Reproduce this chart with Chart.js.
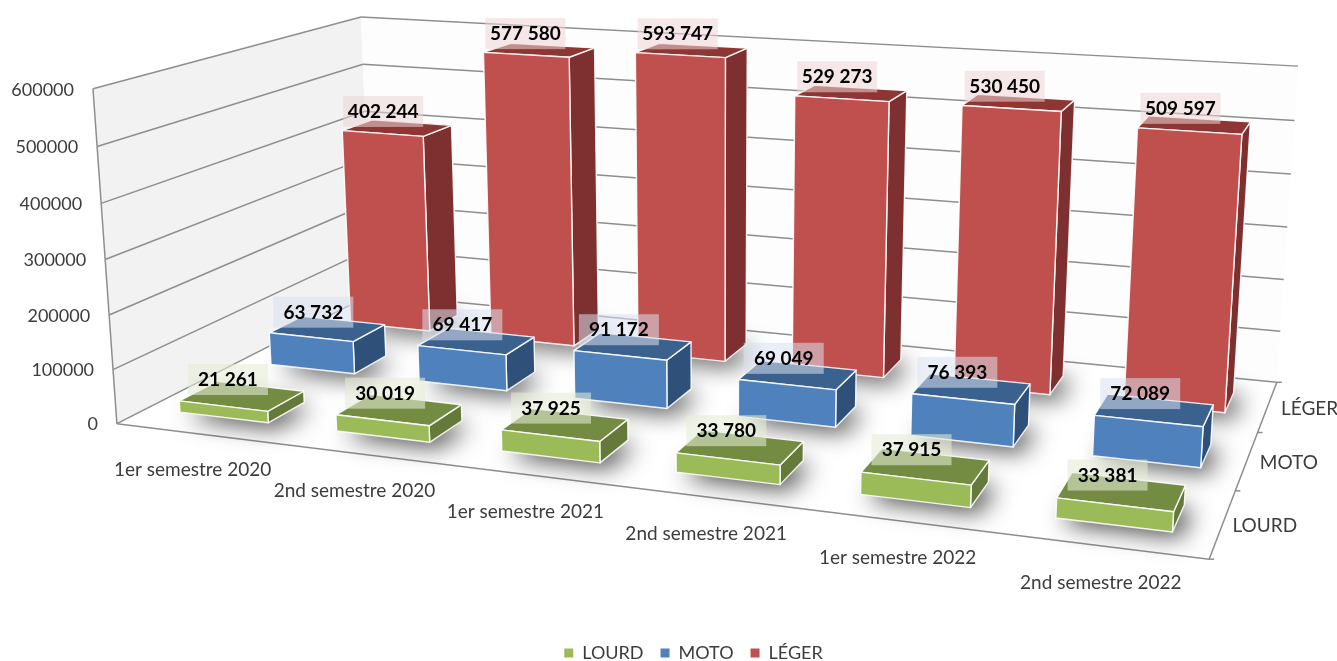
<!DOCTYPE html>
<html lang="fr">
<head>
  <meta charset="UTF-8">
  <title>Immatriculations par semestre</title>
  <script src="https://cdn.jsdelivr.net/npm/chart.js"></script>
  <style>
    html, body { margin: 0; padding: 0; background: #fff; }
    canvas { display: block; }
  </style>
</head>
<body>
  <canvas id="chart3d" width="1337" height="661"></canvas>
  <script>
    const semestres = ['1er semestre 2020', '2nd semestre 2020', '1er semestre 2021', '2nd semestre 2021', '1er semestre 2022', '2nd semestre 2022'];
    const lourd = [21261, 30019, 37925, 33780, 37915, 33381];
    const moto = [63732, 69417, 91172, 69049, 76393, 72089];
    const leger = [402244, 577580, 593747, 529273, 530450, 509597];
    const categories = ['LOURD', 'MOTO', 'LÉGER'];
    const valueTicks = [0, 100000, 200000, 300000, 400000, 500000, 600000];

    // coins de la boite 3D : [u, v, w] -> [x, y] a l'ecran, pour caler la perspective
    const anchors = [
      [0, 0, 0, 117, 422], [0, 1, 0, 93, 89], [0, 1, 1, 361, 16], [0, 0, 1, 372, 296],
      [1, 0, 1, 1277, 380], [1, 1, 1, 1298, 67], [1, 0, 0, 1209, 561]
    ];

    function solveCamera(pts) {
      const A = [], b = [];
      pts.forEach(([X, Y, Z, px, py]) => {
        const x = px / 1000, y = py / 1000;
        A.push([X, Y, Z, 1, 0, 0, 0, 0, -x * X, -x * Y, -x * Z]); b.push(x);
        A.push([0, 0, 0, 0, X, Y, Z, 1, -y * X, -y * Y, -y * Z]); b.push(y);
      });
      const n = 11;
      const M = [];
      for (let i = 0; i < n; i++) {
        const row = [];
        for (let j = 0; j <= n; j++) {
          let s = 0;
          A.forEach((r, k) => { s += r[i] * (j < n ? r[j] : b[k]); });
          row.push(s);
        }
        M.push(row);
      }
      for (let i = 0; i < n; i++) {
        let p = i;
        for (let k = i + 1; k < n; k++) if (Math.abs(M[k][i]) > Math.abs(M[p][i])) p = k;
        [M[i], M[p]] = [M[p], M[i]];
        for (let k = 0; k < n; k++) {
          if (k === i) continue;
          const f = M[k][i] / M[i][i];
          for (let j = i; j <= n; j++) M[k][j] -= f * M[i][j];
        }
      }
      return M.map((r, i) => r[n] / r[i]);
    }

    const cam = solveCamera(anchors);
    function project(u, v, w) {
      const d = cam[8] * u + cam[9] * v + cam[10] * w + 1;
      return [
        1000 * (cam[0] * u + cam[1] * v + cam[2] * w + cam[3]) / d,
        1000 * (cam[4] * u + cam[5] * v + cam[6] * w + cam[7]) / d
      ];
    }

    const faceColors = {
      LOURD: { front: '#9BBB59', top: '#748C42', side: '#657A3A', tag: 'rgba(228,236,212,0.58)' },
      MOTO: { front: '#4F81BD', top: '#3B618F', side: '#2F5078', tag: 'rgba(216,226,240,0.55)' },
      'LÉGER': { front: '#C0504D', top: '#8E3634', side: '#7D302F', tag: 'rgba(238,214,214,0.55)' }
    };
    const halfU = 0.285 / 6;  // demi largeur d'une barre
    const halfW = 0.2 / 3;    // demi profondeur
    const FONT = 'Lato, "Open Sans", sans-serif';

    function poly(ctx, pts) {
      ctx.beginPath();
      pts.forEach((p, i) => i ? ctx.lineTo(p[0], p[1]) : ctx.moveTo(p[0], p[1]));
      ctx.closePath();
    }
    function line(ctx, a, b) {
      ctx.beginPath();
      ctx.moveTo(a[0], a[1]);
      ctx.lineTo(b[0], b[1]);
      ctx.stroke();
    }

    const box3d = {
      id: 'box3d',
      // legende collee en bas, un peu decalee a droite comme sur l'original
      afterLayout(chart) {
        const lg = chart.legend;
        lg.top = 627;
        lg.left += 25;
        lg.right += 25;
      },
      // on remplace le dessin normal des barres par la version en perspective
      beforeDatasetsDraw(chart) {
        const ctx = chart.ctx;
        const sx = chart.scales.x, sy = chart.scales.y, sz = chart.scales.z;
        const U = (i) => (sx.getPixelForValue(i) - sx.left) / sx.width;
        const V = (val) => (sy.bottom - sy.getPixelForValue(val)) / sy.height;
        const W = (s) => (sz.bottom - sz.getPixelForValue(s)) / sz.height;

        ctx.save();
        // murs
        poly(ctx, [project(0, 0, 0), project(0, 1, 0), project(0, 1, 1), project(0, 0, 1)]);
        ctx.fillStyle = '#f2f2f2';
        ctx.fill();
        poly(ctx, [project(0, 0, 1), project(0, 1, 1), project(1, 1, 1), project(1, 0, 1)]);
        ctx.fillStyle = '#fdfdfd';
        ctx.fill();

        // quadrillage + graduations
        ctx.strokeStyle = '#8e8e8e';
        ctx.lineWidth = 1.5;
        ctx.fillStyle = '#3c3c3c';
        ctx.font = '18px ' + FONT;
        ctx.textBaseline = 'middle';
        valueTicks.forEach((t) => {
          const v = V(t);
          const a = project(0, v, 0), b = project(0, v, 1), c = project(1, v, 1);
          line(ctx, a, b);
          line(ctx, b, c);
          ctx.textAlign = 'right';
          ctx.fillText(String(t), a[0] - 19, a[1] + 1);
        });
        line(ctx, project(0, 0, 0), project(0, 1, 0));
        line(ctx, project(0, 0, 0), project(1, 0, 0));
        line(ctx, project(1, 0, 0), project(1, 0, 1));
        [0, 1, 2, 3].forEach((k) => {
          const p = project(1, 0, k / 3);
          line(ctx, p, [p[0] + 5, p[1]]);
        });

        // libelles des axes
        ctx.textAlign = 'center';
        ctx.font = '19px ' + FONT;
        semestres.forEach((s, i) => {
          const p = project(U(i), 0, 0);
          ctx.fillText(s, p[0] - 2, p[1] + 37);
        });
        categories.forEach((c, s) => {
          const p = project(1, 0, W(s));
          ctx.fillText(c, p[0] + 42, p[1] + 2);
        });

        // barres : du fond vers l'avant
        const tags = [];
        for (let s = chart.data.datasets.length - 1; s >= 0; s--) {
          const ds = chart.data.datasets[s];
          const col = faceColors[ds.label];
          ds.data.forEach((val, i) => {
            const u0 = U(i) - halfU, u1 = U(i) + halfU;
            const w0 = W(s) - halfW, w1 = W(s) + halfW;
            const v = V(val);
            const f00 = project(u0, 0, w0), f10 = project(u1, 0, w0), b10 = project(u1, 0, w1), b00 = project(u0, 0, w1);
            const t00 = project(u0, v, w0), t10 = project(u1, v, w0), t11 = project(u1, v, w1), t01 = project(u0, v, w1);

            // ombre au sol
            ctx.save();
            ctx.shadowColor = 'rgba(0,0,0,0.75)';
            ctx.shadowBlur = 24;
            ctx.shadowOffsetX = 8;
            ctx.shadowOffsetY = 5;
            poly(ctx, [f00, f10, b10, b00]);
            ctx.fillStyle = col.side;
            ctx.fill();
            ctx.restore();

            ctx.strokeStyle = 'rgba(255,255,255,0.9)';
            ctx.lineWidth = 1.4;
            ctx.lineJoin = 'round';
            poly(ctx, [f10, b10, t11, t10]);
            ctx.fillStyle = col.side;
            ctx.fill();
            ctx.stroke();
            poly(ctx, [t00, t10, t11, t01]);
            ctx.fillStyle = col.top;
            ctx.fill();
            ctx.stroke();
            poly(ctx, [f00, f10, t10, t00]);
            ctx.fillStyle = col.front;
            ctx.fill();
            ctx.stroke();

            const c = project(U(i), v, W(s));
            tags.push({ x: c[0] - 14, y: c[1] - 17, text: String(val).replace(/\B(?=(\d{3})+$)/g, ' '), color: col.tag });
          });
        }

        // etiquettes par dessus tout
        ctx.font = 'bold 19px ' + FONT;
        tags.forEach((t) => {
          ctx.fillStyle = t.color;
          ctx.fillRect(t.x - 40, t.y - 15, 80, 31);
          ctx.fillStyle = '#000';
          ctx.textAlign = 'center';
          ctx.fillText(t.text, t.x, t.y + 1);
        });
        ctx.restore();
        return false;
      }
    };

    new Chart(document.getElementById('chart3d'), {
      type: 'bar',
      data: {
        labels: semestres,
        datasets: [
          { label: 'LOURD', data: lourd, backgroundColor: '#9BBB59' },
          { label: 'MOTO', data: moto, backgroundColor: '#4F81BD' },
          { label: 'LÉGER', data: leger, backgroundColor: '#C0504D' }
        ]
      },
      options: {
        responsive: false,
        animation: false,
        scales: {
          x: { display: false },
          y: { display: false, min: 0, max: 600000, ticks: { stepSize: 100000 } },
          z: { type: 'category', axis: 'y', labels: categories, display: false, offset: true, reverse: true }
        },
        plugins: {
          tooltip: { enabled: false },
          legend: {
            position: 'bottom',
            labels: { boxWidth: 9, boxHeight: 9, padding: 17, color: '#3c3c3c', font: { family: FONT, size: 18 } }
          }
        }
      },
      plugins: [box3d]
    });
  </script>
</body>
</html>
